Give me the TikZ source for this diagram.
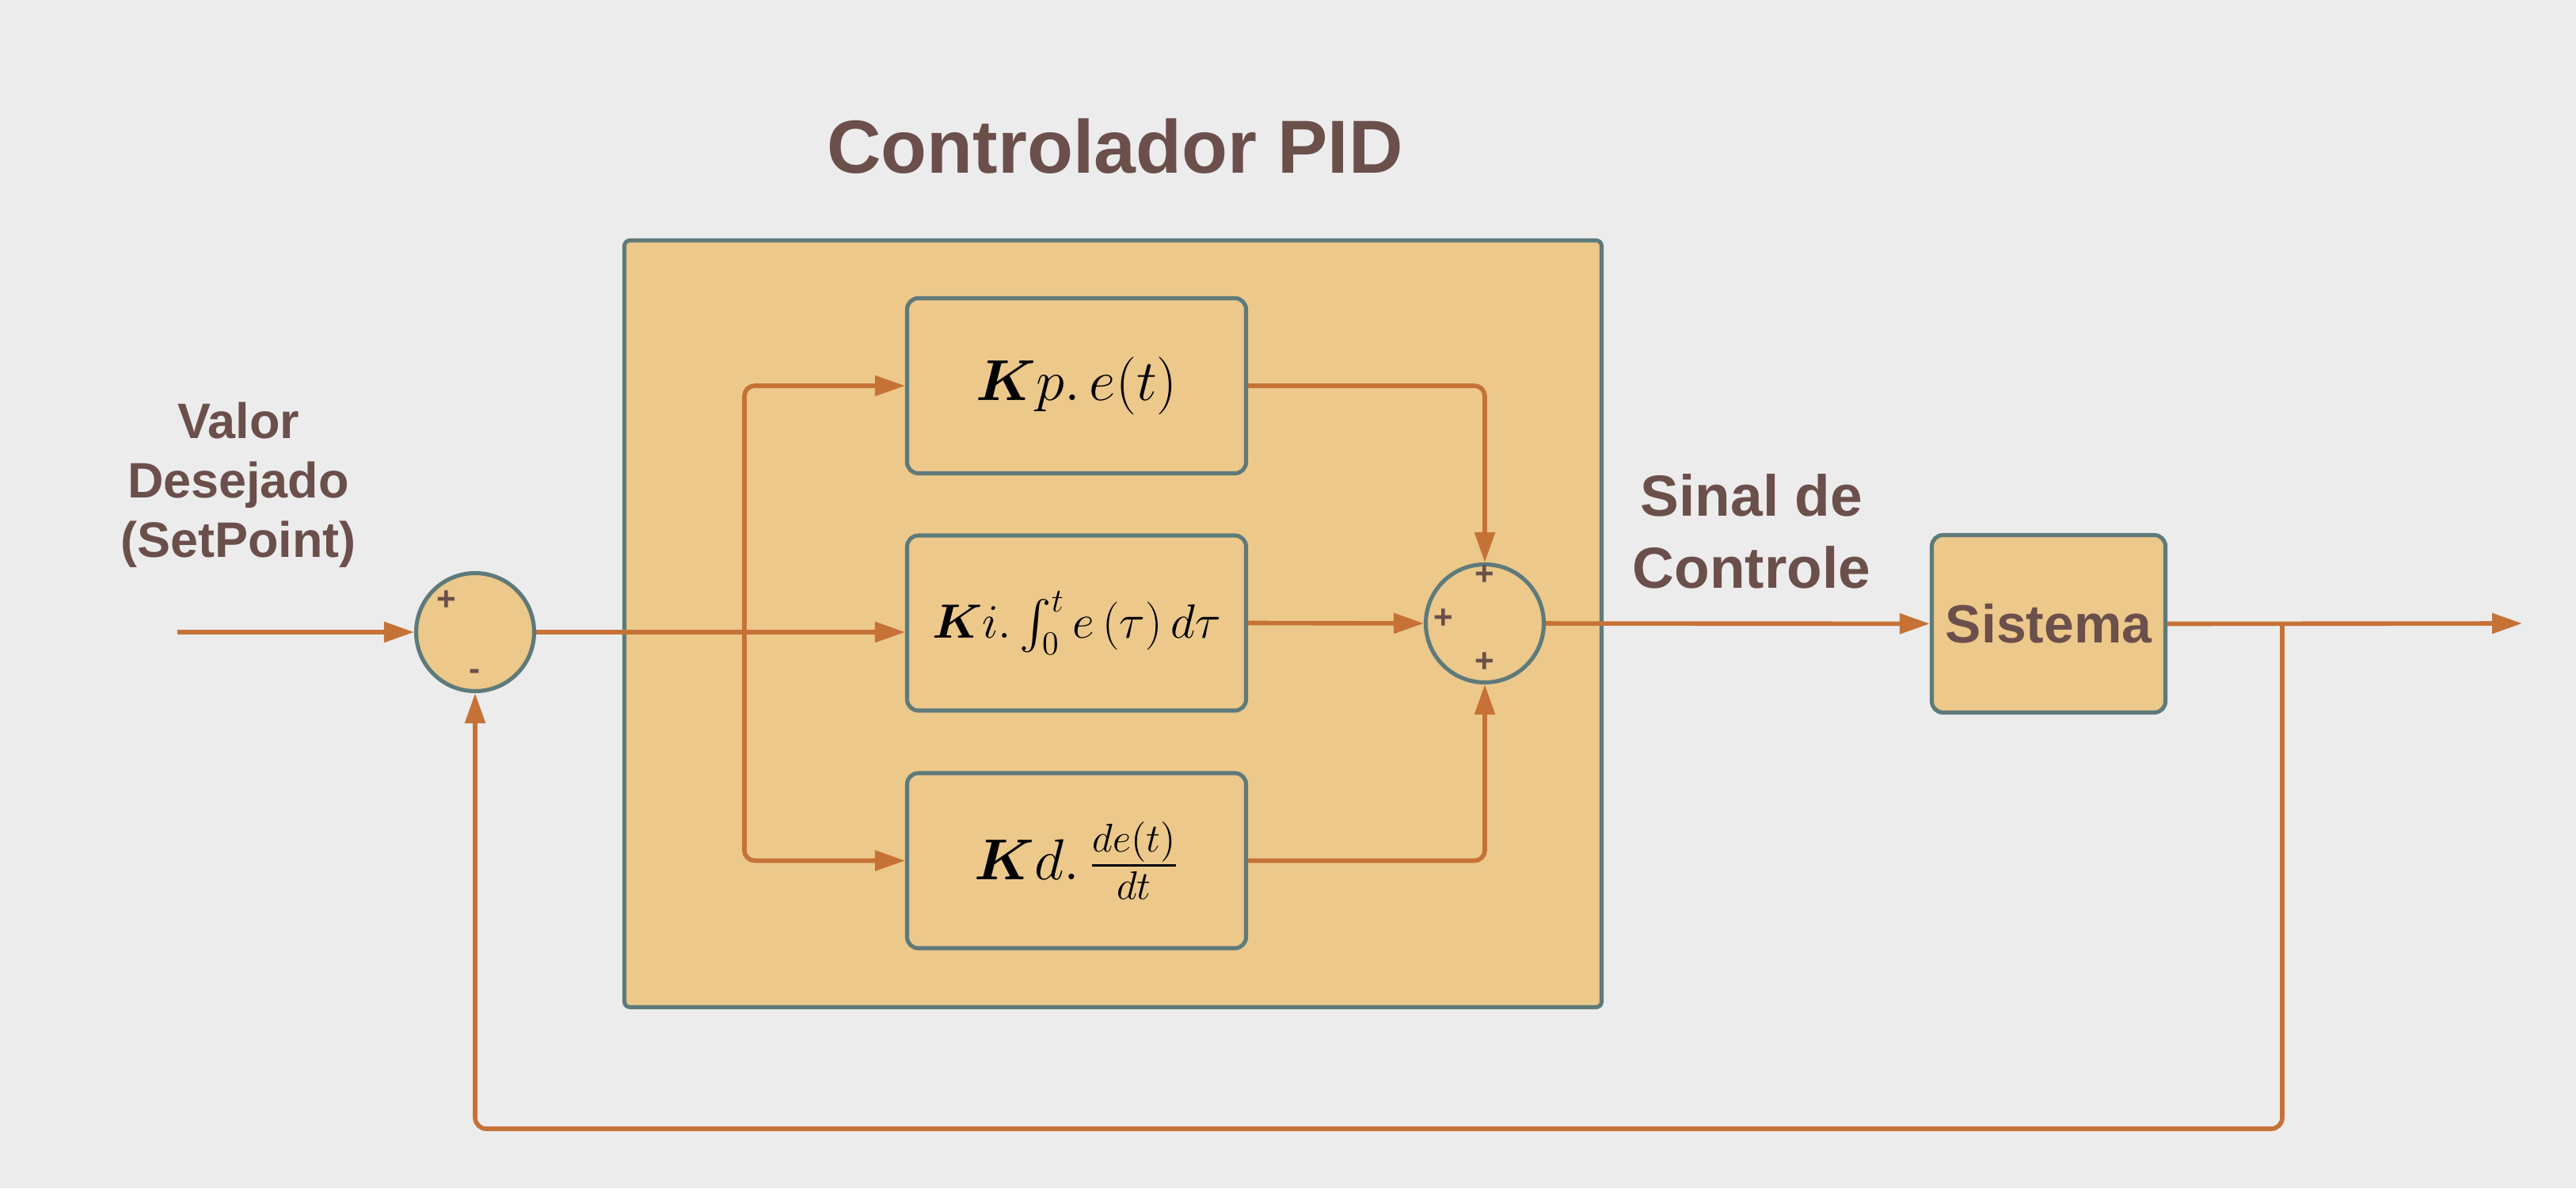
\documentclass[tikz,border=0pt]{standalone}
\usepackage{amsmath}
\usepackage{fontspec}
\setmainfont{Liberation Sans}
\usepackage{tikz}
\usetikzlibrary{arrows.meta,positioning,calc}
\definecolor{PIDBg}{RGB}{236,236,236}
\definecolor{PIDTan}{RGB}{236,200,139}
\definecolor{PIDSlate}{RGB}{94,122,122}
\definecolor{PIDOrange}{RGB}{198,114,55}
\definecolor{PIDBrown}{RGB}{107,79,74}

\begin{document}
\begin{tikzpicture}[
  >={Triangle[length=3.8mm,width=2.5mm]},
  wire/.style={draw=PIDOrange,line width=1.6pt},
  blk/.style={draw=PIDSlate,fill=PIDTan,line width=1.45pt,rounded corners=4pt,
              minimum width=4.28cm,minimum height=2.21cm,inner sep=0pt,
              font=\fontsize{20}{24}\selectfont},
  sumc/.style={circle,draw=PIDSlate,fill=PIDTan,line width=1.45pt,
               minimum size=1.49cm,inner sep=0pt},
  sgn/.style={text=PIDBrown,inner sep=0pt,font=\bfseries\fontsize{12}{12}\selectfont},
  lbl/.style={text=PIDBrown,align=center},
]
\fill[PIDBg] (0,0) rectangle (32.53,15);
\node[lbl,anchor=base,font=\bfseries\fontsize{27}{32}\selectfont] (title) at (14.08,12.81)
  {Controlador PID};
\node[draw=PIDSlate,fill=PIDTan,line width=1.45pt,rounded corners=2pt,
      minimum width=12.34cm,minimum height=9.68cm] (pid) at (14.055,7.125) {};
\node[blk] (kp) at (13.595,10.13) {$\boldsymbol{K}p.\,e(t)$};
\node[blk,font=\fontsize{18}{22}\selectfont] (ki) at (13.595,7.135)
  {$\boldsymbol{K}i.\int_0^t e\,(\tau)\,d\tau$};
\node[blk] (kd) at (13.595,4.135) {$\boldsymbol{K}d.\,\frac{de(t)}{dt}$};
\node[sumc] (sum1) at (6.00,7.02) {};
\node[sumc] (sum2) at (18.75,7.13) {};
\node[blk,minimum width=2.95cm,minimum height=2.24cm,
      font=\bfseries\fontsize{19.3}{23}\selectfont,text=PIDBrown] (sis) at (25.87,7.125) {Sistema};
\node[sgn] (s1p) at (5.64,7.42) {+};
\node[sgn] (s1m) at (6.00,6.48) {-};
\node[sgn] (s2t) at (18.75,7.74) {+};
\node[sgn] (s2l) at (18.23,7.19) {+};
\node[sgn] (s2b) at (18.75,6.64) {+};
\node[lbl,font=\bfseries\fontsize{17.9}{21.4}\selectfont] (sp) at (3.01,8.88)
  {Valor\\Desejado\\(SetPoint)};
\node[lbl,font=\bfseries\fontsize{20.8}{25.9}\selectfont] (sc) at (22.12,8.29)
  {Sinal de\\Controle};
\coordinate (in) at (2.24,7.02);
\coordinate (br) at (9.40,7.02);
\coordinate (tap) at (28.82,7.13);
\coordinate (out) at (31.85,7.13);
\coordinate (fb) at (28.82,0.75);
\draw[wire,->] (in) -- (sum1);
\draw[wire,->] (sum1.east) -- (sum1.east -| ki.west);
\draw[wire,->,rounded corners=0.13cm] (br) |- (kp.west);
\draw[wire,->,rounded corners=0.13cm] (br) |- (kd.west);
\draw[wire,->,rounded corners=0.13cm] (kp.east) -| (sum2.north);
\draw[wire,->] (ki.east) -- (sum2.west);
\draw[wire,->,rounded corners=0.13cm] (kd.east) -| (sum2.south);
\draw[wire,->] (sum2) -- (sis);
\draw[wire,->] (sis.east) -- (out);
\draw[wire,->,rounded corners=0.14cm] (tap) -- (fb) -| (sum1.south);
\end{tikzpicture}
\end{document}
